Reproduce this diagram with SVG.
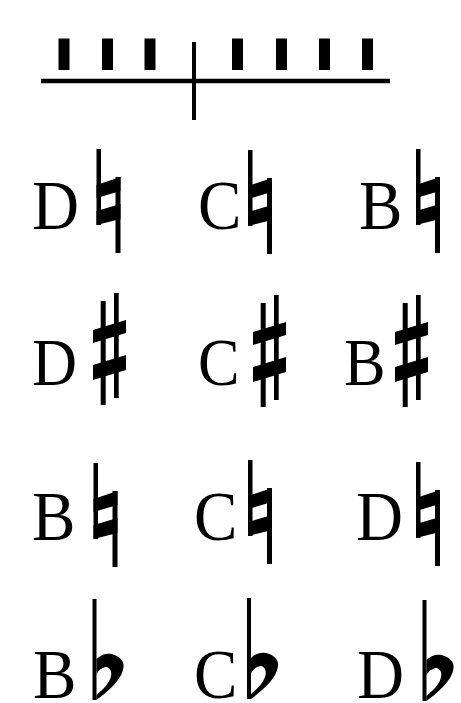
<svg xmlns="http://www.w3.org/2000/svg" xmlns:xlink="http://www.w3.org/1999/xlink" width="461" height="703" viewBox="0 0 461 703">
<style>
.l{font-family:"Liberation Serif","Times New Roman",serif;fill:#000}
.r1{font-size:70px}
.r2{font-size:67px}
.pd{fill:#000}
.ln{stroke:#000;fill:none}
</style>
<defs>
<g id="nat">
<rect x="0" y="0" width="4.5" height="76"/>
<rect x="19" y="28" width="5" height="76"/>
<polygon points="0,36 24,28 24,42 0,49"/>
<polygon points="0,62 24,55 24,70 0,76"/>
</g>
<g id="sharp">
<rect x="7.7" y="8" width="5" height="104"/>
<rect x="21" y="0" width="4.7" height="105"/>
<polygon points="0,37 33,27 33,40 0,50"/>
<polygon points="0,72 33,62 33,77 0,87"/>
</g>
<g id="flat">
<rect x="0" y="0" width="4" height="101"/>
<path fill-rule="evenodd" d="M4,60 C9,55 14,54 19,55 C27,57 32,62 31,68 C30,80 16,92 4,101 Z M4,75 C7,70 11,68 14,68 C18,69 20,73 18,79 C16,85 10,91 4,96 Z"/>
</g>
</defs>
<rect width="461" height="703" fill="#fff"/>
<g id="pedal-diagram">
<line class="ln" x1="41" y1="81" x2="390" y2="81" stroke-width="4.5"/>
<line class="ln" x1="194" y1="42" x2="194" y2="120" stroke-width="4"/>
<rect class="pd" x="58.5" y="38.5" width="11" height="31.5"/>
<rect class="pd" x="102" y="38.5" width="11" height="31.5"/>
<rect class="pd" x="144.5" y="38.5" width="11" height="31.5"/>
<rect class="pd" x="232" y="38.5" width="11" height="31.5"/>
<rect class="pd" x="276" y="38.5" width="11" height="31.5"/>
<rect class="pd" x="319" y="38.5" width="11" height="31.5"/>
<rect class="pd" x="362" y="38.5" width="11" height="31.5"/>
</g>
<g id="row1-d-natural"><text class="l r1" transform="translate(32,229) scale(0.93,1)">D</text><use xlink:href="#nat" href="#nat" transform="translate(96.5,149)"/></g>
<g id="row1-c-natural"><text class="l r1" transform="translate(198,229) scale(0.93,1)">C</text><use xlink:href="#nat" href="#nat" transform="translate(248,150)"/></g>
<g id="row1-b-natural"><text class="l r1" transform="translate(359,229) scale(0.93,1)">B</text><use xlink:href="#nat" href="#nat" transform="translate(416,149)"/></g>
<g id="row2-d-sharp"><text class="l r2" transform="translate(32,384.5) scale(0.93,1)">D</text><use xlink:href="#sharp" href="#sharp" transform="translate(93,293)"/></g>
<g id="row2-c-sharp"><text class="l r2" transform="translate(198,384.5) scale(0.93,1)">C</text><use xlink:href="#sharp" href="#sharp" transform="translate(253,295)"/></g>
<g id="row2-b-sharp"><text class="l r2" transform="translate(344,384.5) scale(0.93,1)">B</text><use xlink:href="#sharp" href="#sharp" transform="translate(395,295)"/></g>
<g id="row3-b-natural"><text class="l r1" transform="translate(32,540) scale(0.93,1)">B</text><use xlink:href="#nat" href="#nat" transform="translate(93.5,463)"/></g>
<g id="row3-c-natural"><text class="l r1" transform="translate(194,540) scale(0.93,1)">C</text><use xlink:href="#nat" href="#nat" transform="translate(248,460)"/></g>
<g id="row3-d-natural"><text class="l r1" transform="translate(356,540) scale(0.93,1)">D</text><use xlink:href="#nat" href="#nat" transform="translate(416,462)"/></g>
<g id="row4-b-flat"><text class="l r1" transform="translate(33,698) scale(0.93,1)">B</text><use xlink:href="#flat" href="#flat" transform="translate(92.5,599)"/></g>
<g id="row4-c-flat"><text class="l r1" transform="translate(194,698) scale(0.93,1)">C</text><use xlink:href="#flat" href="#flat" transform="translate(247,598)"/></g>
<g id="row4-d-flat"><text class="l r1" transform="translate(357,698) scale(0.93,1)">D</text><use xlink:href="#flat" href="#flat" transform="translate(422.5,600)"/></g>
</svg>
